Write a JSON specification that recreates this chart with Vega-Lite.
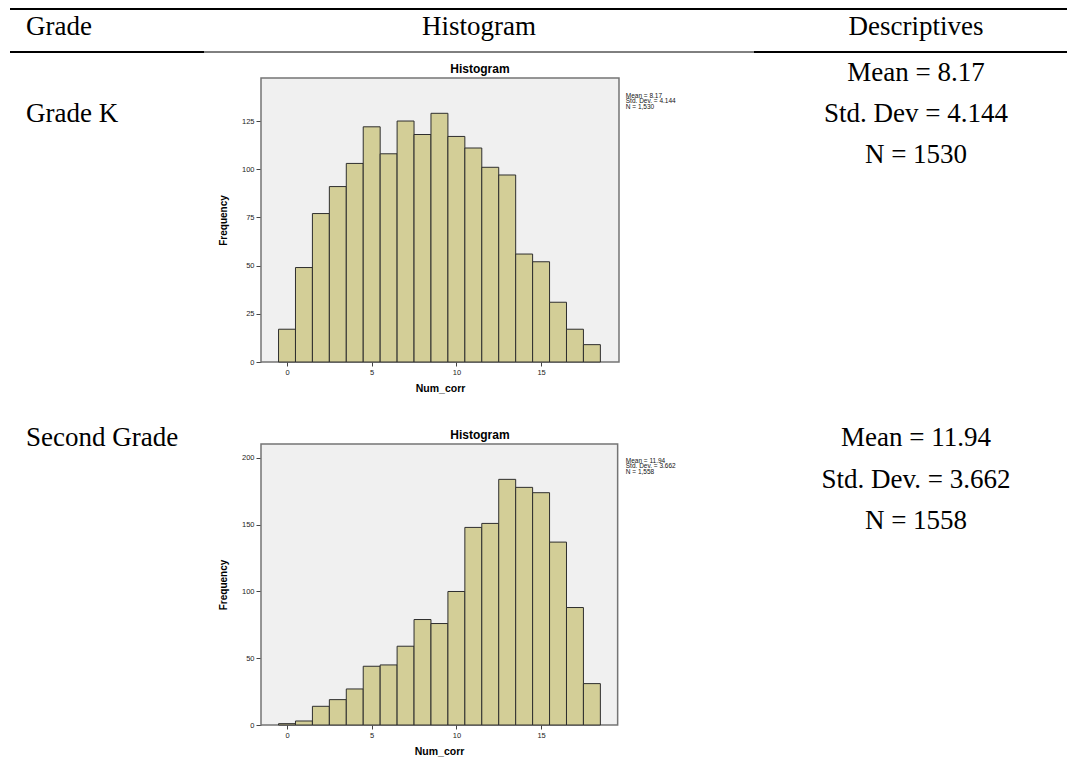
{
  "$schema": "https://vega.github.io/schema/vega-lite/v6.json",
  "background": "white",
  "padding": {"left": 9, "top": 8, "right": 0, "bottom": 0},
  "autosize": {"type": "pad"},
  "columns": 4,
  "spacing": 0,
  "bounds": "flush",
  "align": "each",
  "config": {"view": {"stroke": null}},
  "datasets": {
    "hist1": [
      {"bin_start": -0.5, "bin_end": 0.5, "count": 17},
      {"bin_start": 0.5, "bin_end": 1.5, "count": 49},
      {"bin_start": 1.5, "bin_end": 2.5, "count": 77},
      {"bin_start": 2.5, "bin_end": 3.5, "count": 91},
      {"bin_start": 3.5, "bin_end": 4.5, "count": 103},
      {"bin_start": 4.5, "bin_end": 5.5, "count": 122},
      {"bin_start": 5.5, "bin_end": 6.5, "count": 108},
      {"bin_start": 6.5, "bin_end": 7.5, "count": 125},
      {"bin_start": 7.5, "bin_end": 8.5, "count": 118},
      {"bin_start": 8.5, "bin_end": 9.5, "count": 129},
      {"bin_start": 9.5, "bin_end": 10.5, "count": 117},
      {"bin_start": 10.5, "bin_end": 11.5, "count": 111},
      {"bin_start": 11.5, "bin_end": 12.5, "count": 101},
      {"bin_start": 12.5, "bin_end": 13.5, "count": 97},
      {"bin_start": 13.5, "bin_end": 14.5, "count": 56},
      {"bin_start": 14.5, "bin_end": 15.5, "count": 52},
      {"bin_start": 15.5, "bin_end": 16.5, "count": 31},
      {"bin_start": 16.5, "bin_end": 17.5, "count": 17},
      {"bin_start": 17.5, "bin_end": 18.5, "count": 9}
    ],
    "hist2": [
      {"bin_start": -0.5, "bin_end": 0.5, "count": 1},
      {"bin_start": 0.5, "bin_end": 1.5, "count": 3},
      {"bin_start": 1.5, "bin_end": 2.5, "count": 14},
      {"bin_start": 2.5, "bin_end": 3.5, "count": 19},
      {"bin_start": 3.5, "bin_end": 4.5, "count": 27},
      {"bin_start": 4.5, "bin_end": 5.5, "count": 44},
      {"bin_start": 5.5, "bin_end": 6.5, "count": 45},
      {"bin_start": 6.5, "bin_end": 7.5, "count": 59},
      {"bin_start": 7.5, "bin_end": 8.5, "count": 79},
      {"bin_start": 8.5, "bin_end": 9.5, "count": 76},
      {"bin_start": 9.5, "bin_end": 10.5, "count": 100},
      {"bin_start": 10.5, "bin_end": 11.5, "count": 148},
      {"bin_start": 11.5, "bin_end": 12.5, "count": 151},
      {"bin_start": 12.5, "bin_end": 13.5, "count": 184},
      {"bin_start": 13.5, "bin_end": 14.5, "count": 178},
      {"bin_start": 14.5, "bin_end": 15.5, "count": 174},
      {"bin_start": 15.5, "bin_end": 16.5, "count": 137},
      {"bin_start": 16.5, "bin_end": 17.5, "count": 88},
      {"bin_start": 17.5, "bin_end": 18.5, "count": 31}
    ]
  },
  "concat": [
    {
      "width": 194, "height": 43,
      "data": {"values": [{"text": "Grade"}]},
      "layer": [
        {"mark": {"type": "rule", "strokeWidth": 2, "color": "black"},
         "encoding": {"y": {"datum": 1, "type": "quantitative", "scale": {"domain": [0, 1]}, "axis": null}}},
        {"mark": {"type": "rule", "strokeWidth": 2, "color": "black"},
         "encoding": {"y": {"datum": 0, "type": "quantitative", "axis": null}}},
        {"mark": {"type": "text", "align": "left", "baseline": "middle", "dx": 16, "dy": -4, "font": "Liberation Serif", "fontSize": 27, "color": "black"},
         "encoding": {"text": {"field": "text"}, "x": {"datum": 0, "type": "quantitative", "scale": {"domain": [0, 1]}, "axis": null}}}
      ]
    },
    {
      "width": 57, "height": 43,
      "data": {"values": [{}]},
      "layer": [
        {"mark": {"type": "rule", "strokeWidth": 2, "color": "black"},
         "encoding": {"y": {"datum": 1, "type": "quantitative", "scale": {"domain": [0, 1]}, "axis": null}}},
        {"mark": {"type": "rule", "strokeWidth": 1, "color": "black"},
         "encoding": {"y": {"datum": 0, "type": "quantitative", "axis": null}}}
      ]
    },
    {
      "width": 493, "height": 43,
      "data": {"values": [{"text": "Histogram"}]},
      "layer": [
        {"mark": {"type": "rule", "strokeWidth": 2, "color": "black"},
         "encoding": {"y": {"datum": 1, "type": "quantitative", "scale": {"domain": [0, 1]}, "axis": null}}},
        {"mark": {"type": "rule", "strokeWidth": 1, "color": "black"},
         "encoding": {"y": {"datum": 0, "type": "quantitative", "axis": null}}},
        {"mark": {"type": "text", "align": "center", "baseline": "middle", "dx": -28.5, "dy": -4, "font": "Liberation Serif", "fontSize": 27, "color": "black"},
         "encoding": {"text": {"field": "text"}}}
      ]
    },
    {
      "width": 314, "height": 43,
      "data": {"values": [{"text": "Descriptives"}]},
      "layer": [
        {"mark": {"type": "rule", "strokeWidth": 2, "color": "black"},
         "encoding": {"y": {"datum": 1, "type": "quantitative", "scale": {"domain": [0, 1]}, "axis": null}}},
        {"mark": {"type": "rule", "strokeWidth": 2, "color": "black"},
         "encoding": {"y": {"datum": 0, "type": "quantitative", "axis": null}}},
        {"mark": {"type": "text", "align": "center", "baseline": "middle", "dx": 5, "dy": -4, "font": "Liberation Serif", "fontSize": 27, "color": "black"},
         "encoding": {"text": {"field": "text"}}}
      ]
    },
    {
      "width": 194, "height": 124,
      "data": {"values": [{"text": "Grade K"}]},
      "mark": {"type": "text", "align": "left", "baseline": "middle", "dx": 16, "font": "Liberation Serif", "fontSize": 27, "color": "black"},
      "encoding": {"text": {"field": "text"}, "x": {"datum": 0, "type": "quantitative", "scale": {"domain": [0, 1]}, "axis": null}}
    },
    {
      "width": 57, "height": 10,
      "data": {"values": []},
      "mark": "point"
    },
    {
      "width": 493, "height": 310,
      "layer": [
        {"data": {"values": [{}]},
         "mark": {"type": "rect", "fill": "#F0F0F0", "stroke": "#747474", "strokeWidth": 1.5},
         "encoding": {"x": {"datum": -1.535, "type": "quantitative"}, "x2": {"datum": 19.6}, "y": {"datum": 0, "type": "quantitative"}, "y2": {"datum": 147.3}}},
        {"data": {"name": "hist1"},
         "mark": {"type": "rect", "fill": "#D3CE97", "stroke": "#2E2E2E", "strokeWidth": 1},
         "encoding": {
           "x": {"field": "bin_start", "type": "quantitative",
                 "scale": {"domain": [-1.535, 27.57], "nice": false, "zero": false},
                 "axis": {"values": [0, 5, 10, 15], "title": "Num_corr", "titleX": 179, "domain": false, "grid": false, "tickSize": 4, "tickColor": "#444444", "labelFont": "Liberation Sans", "labelFontSize": 7.5, "labelColor": "#222222", "labelPadding": 2, "labelFlush": false, "titleFont": "Liberation Sans", "titleFontSize": 10.5, "titleFontWeight": "bold", "titleColor": "black", "titlePadding": 8}},
           "x2": {"field": "bin_end"},
           "y": {"field": "count", "type": "quantitative",
                 "scale": {"domain": [0, 160.8], "nice": false},
                 "axis": {"values": [0, 25, 50, 75, 100, 125], "title": "Frequency", "titleY": 168, "domain": false, "grid": false, "tickSize": 5, "tickColor": "#444444", "labelFont": "Liberation Sans", "labelFontSize": 7.5, "labelColor": "#222222", "labelPadding": 2, "labelFlush": false, "titleFont": "Liberation Sans", "titleFontSize": 10, "titleFontWeight": "bold", "titleColor": "black", "titlePadding": 13}},
           "y2": {"datum": 0}
         }},
        {"data": {"values": [{}]},
         "mark": {"type": "text", "text": "Histogram", "font": "Liberation Sans", "fontSize": 12, "fontWeight": "bold", "align": "center", "baseline": "middle", "color": "black"},
         "encoding": {"x": {"datum": 11.39, "type": "quantitative"}, "y": {"datum": 152, "type": "quantitative"}}},
        {"data": {"values": [{}]},
         "mark": {"type": "text", "text": ["Mean = 8.17", "Std. Dev. = 4.144", "N = 1,530"], "font": "Liberation Sans", "fontSize": 6.5, "lineHeight": 5.5, "align": "left", "baseline": "top", "color": "#111111"},
         "encoding": {"x": {"datum": 20.0, "type": "quantitative"}, "y": {"datum": 139.6, "type": "quantitative"}}}
      ]
    },
    {
      "width": 314, "height": 124,
      "data": {"values": [
        {"stat": "Mean", "text": "Mean = 8.17"},
        {"stat": "SD", "text": "Std. Dev = 4.144"},
        {"stat": "N", "text": "N = 1530"}
      ]},
      "mark": {"type": "text", "align": "center", "baseline": "middle", "dx": 5, "font": "Liberation Serif", "fontSize": 27, "color": "black"},
      "encoding": {
        "text": {"field": "text"},
        "y": {"field": "stat", "type": "nominal", "scale": {"type": "point", "domain": ["Mean", "SD", "N"]}, "axis": null}
      }
    },
    {
      "width": 194, "height": 152,
      "data": {"values": [{"text": "Second Grade"}]},
      "mark": {"type": "text", "align": "left", "baseline": "middle", "dx": 16, "font": "Liberation Serif", "fontSize": 27, "color": "black"},
      "encoding": {"text": {"field": "text"}, "x": {"datum": 0, "type": "quantitative", "scale": {"domain": [0, 1]}, "axis": null}}
    },
    {
      "width": 57, "height": 10,
      "data": {"values": []},
      "mark": "point"
    },
    {
      "width": 493, "height": 363,
      "layer": [
        {"data": {"values": [{}]},
         "mark": {"type": "rect", "fill": "#F0F0F0", "stroke": "#747474", "strokeWidth": 1.5},
         "encoding": {"x": {"datum": -1.535, "type": "quantitative"}, "x2": {"datum": 19.52}, "y": {"datum": 0, "type": "quantitative"}, "y2": {"datum": 210.5}}},
        {"data": {"name": "hist2"},
         "mark": {"type": "rect", "fill": "#D3CE97", "stroke": "#2E2E2E", "strokeWidth": 1},
         "encoding": {
           "x": {"field": "bin_start", "type": "quantitative",
                 "scale": {"domain": [-1.535, 27.57], "nice": false, "zero": false},
                 "axis": {"values": [0, 5, 10, 15], "title": "Num_corr", "titleX": 178, "domain": false, "grid": false, "tickSize": 4, "tickColor": "#444444", "labelFont": "Liberation Sans", "labelFontSize": 7.5, "labelColor": "#222222", "labelPadding": 2, "labelFlush": false, "titleFont": "Liberation Sans", "titleFontSize": 10.5, "titleFontWeight": "bold", "titleColor": "black", "titlePadding": 8}},
           "x2": {"field": "bin_end"},
           "y": {"field": "count", "type": "quantitative",
                 "scale": {"domain": [0, 271.9], "nice": false},
                 "axis": {"values": [0, 50, 100, 150, 200], "title": "Frequency", "titleY": 222.5, "domain": false, "grid": false, "tickSize": 5, "tickColor": "#444444", "labelFont": "Liberation Sans", "labelFontSize": 7.5, "labelColor": "#222222", "labelPadding": 2, "labelFlush": false, "titleFont": "Liberation Sans", "titleFontSize": 10, "titleFontWeight": "bold", "titleColor": "black", "titlePadding": 13}},
           "y2": {"datum": 0}
         }},
        {"data": {"values": [{}]},
         "mark": {"type": "text", "text": "Histogram", "font": "Liberation Sans", "fontSize": 12, "fontWeight": "bold", "align": "center", "baseline": "middle", "color": "black"},
         "encoding": {"x": {"datum": 11.39, "type": "quantitative"}, "y": {"datum": 217.2, "type": "quantitative"}}},
        {"data": {"values": [{}]},
         "mark": {"type": "text", "text": ["Mean = 11.94", "Std. Dev. = 3.662", "N = 1,558"], "font": "Liberation Sans", "fontSize": 6.5, "lineHeight": 5.5, "align": "left", "baseline": "top", "color": "#111111"},
         "encoding": {"x": {"datum": 20.0, "type": "quantitative"}, "y": {"datum": 200.2, "type": "quantitative"}}}
      ]
    },
    {
      "width": 314, "height": 363,
      "data": {"values": [
        {"stat": "Mean", "text": "Mean = 11.94"},
        {"stat": "SD", "text": "Std. Dev. = 3.662"},
        {"stat": "N", "text": "N = 1558"}
      ]},
      "mark": {"type": "text", "align": "center", "baseline": "middle", "dx": 5, "font": "Liberation Serif", "fontSize": 27, "color": "black"},
      "encoding": {
        "text": {"field": "text"},
        "y": {"field": "stat", "type": "nominal", "scale": {"type": "point", "domain": ["Mean", "SD", "N"], "range": [76, 159], "padding": 0}, "axis": null}
      }
    }
  ]
}
